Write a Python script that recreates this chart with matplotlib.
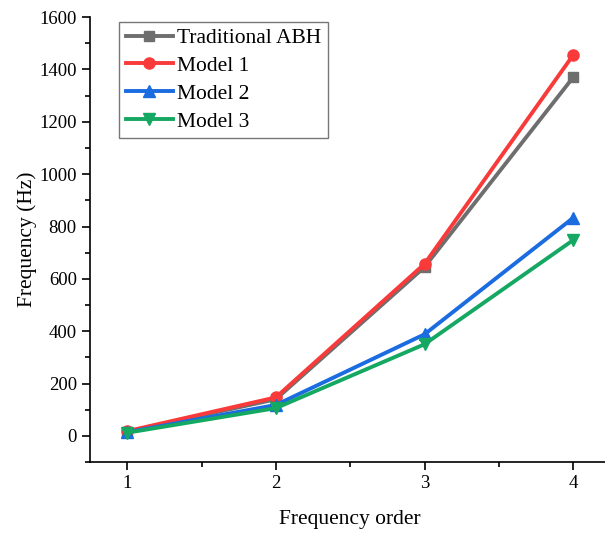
import matplotlib.pyplot as plt
from matplotlib.ticker import MultipleLocator

order = [1, 2, 3, 4]
traditional = [16, 140, 645, 1370]
model1 = [18, 147, 657, 1455]
model2 = [14, 118, 388, 833]
model3 = [12, 106, 350, 748]

plt.rcParams['font.family'] = ['Liberation Serif', 'DejaVu Serif']

fig = plt.figure(figsize=(6.05, 5.36), dpi=100)
ax = fig.add_axes([0.1488, 0.138, 0.86, 0.830])

ax.plot(order, traditional, color='#6e6e6e', marker='s', lw=2.8, ms=7, label='Traditional ABH')
ax.plot(order, model1, color='#f93a3a', marker='o', lw=2.8, ms=8, label='Model 1')
ax.plot(order, model2, color='#1a6ce0', marker='^', lw=2.8, ms=8.5, label='Model 2')
ax.plot(order, model3, color='#15a862', marker='v', lw=2.8, ms=8.5, label='Model 3')

ax.set_xlim(0.75, 4.25)
ax.set_ylim(-100, 1600)
ax.set_xticks(order)
ax.xaxis.set_minor_locator(MultipleLocator(0.5))
ax.yaxis.set_major_locator(MultipleLocator(200))
ax.yaxis.set_minor_locator(MultipleLocator(100))
ax.tick_params(which='both', direction='out', width=1.2, labelsize=13.5)
ax.tick_params(which='major', length=6)
ax.tick_params(which='minor', length=3.5)

for s in ['top', 'right']:
    ax.spines[s].set_visible(False)
for s in ['left', 'bottom']:
    ax.spines[s].set_linewidth(1.2)

ax.set_xlabel('Frequency order', fontsize=15.5, labelpad=13)
ax.set_ylabel('Frequency (Hz)', fontsize=15.5, labelpad=2)

leg = ax.legend(loc='upper left', bbox_to_anchor=(0.056, 0.99), fontsize=15.5,
                frameon=True, fancybox=False, edgecolor='#555555',
                handlelength=2.2, handletextpad=0.2, borderpad=0.3,
                labelspacing=0.36, borderaxespad=0)
leg.get_frame().set_linewidth(1.0)

fig.savefig('out.png', dpi=100)
